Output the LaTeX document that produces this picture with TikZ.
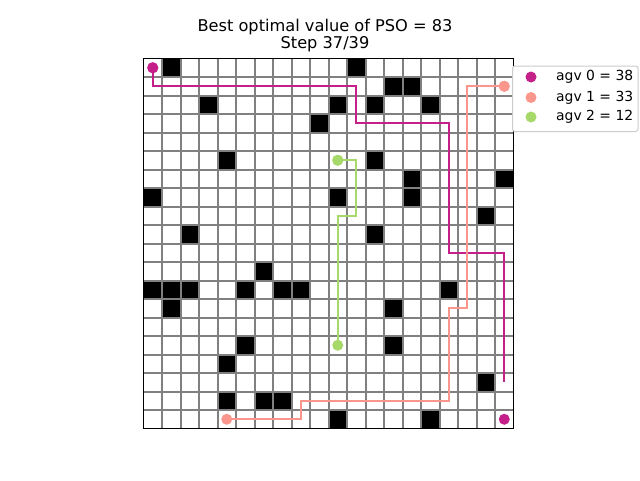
\documentclass[tikz,border=0pt]{standalone}
\usepackage{fontspec}
\setmainfont{DejaVu Sans}
\definecolor{agvA}{RGB}{197,31,138}
\definecolor{agvB}{RGB}{250,150,140}
\definecolor{agvC}{RGB}{166,216,106}
\definecolor{gridgray}{RGB}{128,128,128}
\definecolor{legedge}{RGB}{204,204,204}
\tikzset{
  cellline/.style={draw=gridgray, line width=2pt},
  obstacle/.style={fill=black},
  route/.style={line width=2pt, line join=miter},
  dotmark/.style={circle, inner sep=0pt, minimum size=11pt},
  legtext/.style={anchor=west, inner sep=0pt, font=\fontsize{13.9}{16}\selectfont},
  titletext/.style={font=\fontsize{16.2}{17}\selectfont, inner sep=0pt}
}
\begin{document}
\begin{tikzpicture}[x=1pt,y=-1pt]
\useasboundingbox[fill=white] (0,0) rectangle (640,480);
\node[titletext] (t1) at (325,27) {Best optimal value of PSO = 83};
\node[titletext] (t2) at (325,44) {Step 37/39};
\begin{scope}[shift={(143.5,58.5)}, x=18.5pt, y=-18.5pt]
  \fill[white] (0,0) rectangle (20,20);
  \foreach \c/\r in {1/0,11/0,13/1,14/1,3/2,10/2,12/2,15/2,9/3,4/5,12/5,14/6,19/6,0/7,10/7,14/7,18/8,2/9,12/9,6/11,0/12,1/12,2/12,5/12,7/12,8/12,16/12,1/13,13/13,5/15,13/15,4/16,18/17,4/18,6/18,7/18,10/19,15/19}
    \fill[obstacle] (\c,\r) rectangle ++(1,1);
  \foreach \k in {1,...,19} {
    \draw[cellline] (\k,0) -- (\k,20);
    \draw[cellline] (0,\k) -- (20,\k);
  }
  \draw[black, line width=1pt] (0,0) rectangle (20,20);
  % agv 0
  \node[dotmark, fill=agvA] (a0s) at (0.5,0.5) {};
  \node[dotmark, fill=agvA] (a0g) at (19.5,19.5) {};
  \coordinate (a0e) at (19.5,17.5);
  \draw[route, agvA] (a0s.center) -- (0.5,1.5) -- (11.5,1.5) -- (11.5,3.5) -- (16.5,3.5) -- (16.5,10.5) -- (19.5,10.5) -- (a0e);
  % agv 1
  \node[dotmark, fill=agvB] (a1s) at (19.5,1.5) {};
  \node[dotmark, fill=agvB] (a1g) at (4.5,19.5) {};
  \draw[route, agvB] (a1s.center) -- (17.5,1.5) -- (17.5,13.5) -- (16.5,13.5) -- (16.5,18.5) -- (8.5,18.5) -- (8.5,19.5) -- (a1g.center);
  % agv 2
  \node[dotmark, fill=agvC] (a2s) at (10.5,5.5) {};
  \node[dotmark, fill=agvC] (a2g) at (10.5,15.5) {};
  \draw[route, agvC] (a2s.center) -- (11.5,5.5) -- (11.5,8.5) -- (10.5,8.5) -- (a2g.center);
  \node[dotmark, fill=agvA] at (0.5,0.5) {};
  \node[dotmark, fill=agvB] at (19.5,1.5) {};
  \node[dotmark, fill=agvC] at (10.5,5.5) {};
\end{scope}
% legend
\draw[legedge, fill=white, rounded corners=2.5pt, line width=1pt] (512.5,66) rectangle (638,131.5);
\node[dotmark, fill=agvA] (l0) at (531,77) {};
\node[dotmark, fill=agvB] (l1) at (531,97.5) {};
\node[dotmark, fill=agvC] (l2) at (531,117) {};
\node[legtext] (lt0) at (556,77) {agv 0 = 38};
\node[legtext] (lt1) at (556,97.5) {agv 1 = 33};
\node[legtext] (lt2) at (556,117) {agv 2 = 12};
\end{tikzpicture}
\end{document}
